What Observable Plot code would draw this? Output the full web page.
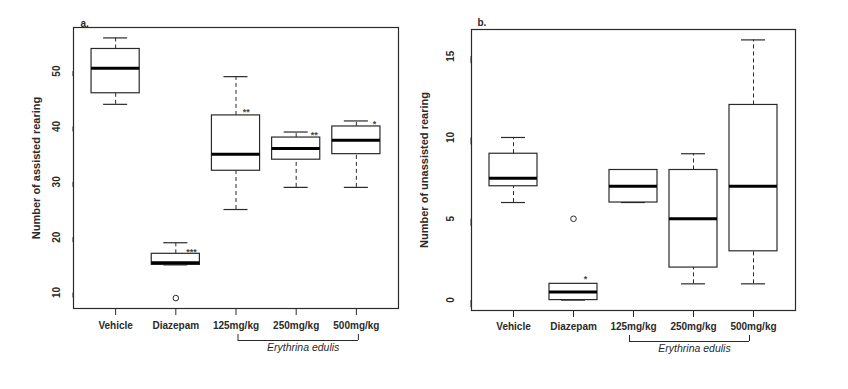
<!DOCTYPE html>
<html><head><meta charset="utf-8">
<script src="https://cdn.jsdelivr.net/npm/d3@7"></script>
<script src="https://cdn.jsdelivr.net/npm/@observablehq/plot@0.6"></script>
<style>
html,body{margin:0;padding:0;background:#fff;}
#wrap{display:flex;width:848px;height:389px;overflow:hidden;}
#wrap svg{overflow:visible;}
</style></head><body><div id="wrap"></div>
<script>
// ---- shared categories ----
const categories = ["Vehicle", "Diazepam", "125mg/kg", "250mg/kg", "500mg/kg"];
const bracketFrom = "125mg/kg";
const bracketTo = "500mg/kg";
const bracketLabel = "Erythrina edulis";

// ---- panel a: assisted rearing ----
const titleA = "a.";
const yLabelA = "Number of assisted rearing";
const yTicksA = [10, 20, 30, 40, 50];
const lowA  = [44, 15, 25, 29, 29];
const q1A   = [46, 15, 32, 34, 35];
const medA  = [50.5, 15.4, 35, 36, 37.5];
const q3A   = [54, 17, 42, 38, 40];
const highA = [56, 19, 49, 39, 41];
const outlierGroupsA = ["Diazepam"];
const outlierValuesA = [9];
const starGroupsA = ["Diazepam", "125mg/kg", "250mg/kg", "500mg/kg"];
const starLabelsA = ["***", "**", "**", "*"];
const starXA = [2.26, 3.17, 4.3, 5.3];
const starYA = [17.7, 43.0, 38.8, 40.8];

// ---- panel b: unassisted rearing ----
const titleB = "b.";
const yLabelB = "Number of unassisted rearing";
const yTicksB = [0, 5, 10, 15];
const lowB  = [6, 0, 6, 1, 1];
const q1B   = [7, 0, 6, 2, 3];
const medB  = [7.5, 0.5, 7, 5, 7];
const q3B   = [9, 1, 8, 8, 12];
const highB = [10, 1, 8, 9, 16];
const outlierGroupsB = ["Diazepam"];
const outlierValuesB = [5];
const starGroupsB = ["Diazepam"];
const starLabelsB = ["*"];
const starXB = [2.2];
const starYB = [1.4];

const FONT = "'Liberation Sans', Arial, Helvetica, sans-serif";
const INK = "#2a2a2a";

function panel(cfg) {
  const idx = g => categories.indexOf(g) + 1;
  const rows = categories.map((c, i) => ({
    i: i + 1, low: cfg.low[i], q1: cfg.q1[i], med: cfg.med[i], q3: cfg.q3[i], high: cfg.high[i]
  }));
  const outliers = cfg.outlierGroups.map((g, k) => ({i: idx(g), v: cfg.outlierValues[k]}));
  const stars = cfg.starLabels.map((s, k) => ({label: s, x: cfg.starX[k], y: cfg.starY[k]}));
  const all = [...cfg.low, ...cfg.high, ...cfg.outlierValues];
  const lo = d3.min(all), hi = d3.max(all), pad = 0.04 * (hi - lo);
  const yDom = [lo - pad, hi + pad];
  const n = categories.length;
  const xPad = 0.04 * n;
  const xDom = [0.5 - xPad, n + 0.5 + xPad];
  const bw = 0.4, cw = 0.2;
  const b0 = idx(bracketFrom), b1 = idx(bracketTo);
  return Plot.plot({
    width: cfg.width, height: 389,
    marginLeft: cfg.ml, marginRight: cfg.mr, marginTop: cfg.mt, marginBottom: cfg.mb,
    x: {domain: xDom},
    y: {domain: yDom},
    style: {fontFamily: FONT, fontSize: "10px", background: "#fff", color: INK, overflow: "visible"},
    marks: [
      Plot.ruleX(rows, {x: "i", y1: "q3", y2: "high", stroke: INK, strokeWidth: 1, strokeDasharray: "4,3"}),
      Plot.ruleX(rows, {x: "i", y1: "low", y2: "q1", stroke: INK, strokeWidth: 1, strokeDasharray: "4,3"}),
      Plot.ruleY(rows, {y: "high", x1: d => d.i - cw, x2: d => d.i + cw, stroke: INK, strokeWidth: 1.2}),
      Plot.ruleY(rows, {y: "low", x1: d => d.i - cw, x2: d => d.i + cw, stroke: INK, strokeWidth: 1.2}),
      Plot.rect(rows, {x1: d => d.i - bw, x2: d => d.i + bw, y1: "q1", y2: "q3", fill: "white", stroke: INK, strokeWidth: 1.2}),
      Plot.ruleY(rows, {y: "med", x1: d => d.i - bw, x2: d => d.i + bw, stroke: "#000", strokeWidth: 3}),
      Plot.dot(outliers, {x: "i", y: "v", r: 2.8, stroke: INK, strokeWidth: 1, fill: "none"}),
      Plot.text(stars, {x: "x", y: "y", text: "label", fontSize: 9, fontWeight: "bold", fill: "#444", dy: 2}),
      Plot.frame({stroke: INK, strokeWidth: 1.2}),
      Plot.axisY({ticks: cfg.yTicks, tickSize: cfg.ytick, tickPadding: cfg.ypad, rotate: -90, textAnchor: "middle",
                  fontWeight: "bold", fontSize: 10, label: null, stroke: INK}),
      Plot.axisX({ticks: d3.range(1, n + 1), tickFormat: i => categories[i - 1], tickSize: 7, tickPadding: cfg.xpad,
                  fontWeight: "bold", fontSize: 10, label: null, stroke: INK}),
      Plot.text([cfg.yLabel], {frameAnchor: "left", textAnchor: "middle", dx: cfg.ylabDx, rotate: -90,
                               fontWeight: "bold", fontSize: 11, fill: INK}),
      Plot.text([cfg.title], {frameAnchor: "top-left", textAnchor: "start", dx: cfg.titleDx, dy: cfg.titleDy,
                              fontWeight: "bold", fontSize: 10, fill: INK}),
      Plot.ruleY([yDom[0]], {x1: b0, x2: b1, dx: cfg.brDx, dy: cfg.brDy, stroke: INK, strokeWidth: 1}),
      Plot.ruleX([b0, b1], {x: d => d, y1: yDom[0], y2: yDom[0], insetTop: -6, dx: cfg.brDx, dy: cfg.brDy, stroke: INK, strokeWidth: 1}),
      Plot.text([bracketLabel], {x: (b0 + b1) / 2, frameAnchor: "bottom", dx: cfg.labDx, dy: cfg.labDy,
                                 fontStyle: "italic", fontSize: 10.5, fill: INK})
    ]
  });
}

const wrap = document.getElementById("wrap");
wrap.appendChild(panel({
  width: 410, ml: 73, mr: 12, mt: 27, mb: 81,
  low: lowA, q1: q1A, med: medA, q3: q3A, high: highA,
  outlierGroups: outlierGroupsA, outlierValues: outlierValuesA,
  starLabels: starLabelsA, starX: starXA, starY: starYA,
  yTicks: yTicksA, yLabel: yLabelA, title: titleA,
  ytick: 5, ypad: 12, xpad: 6, ylabDx: -37, titleDx: 7, titleDy: -8,
  brDx: 2, brDy: 32, labDx: 7, labDy: 42
}));
wrap.appendChild(panel({
  width: 438, ml: 61, mr: 53, mt: 29, mb: 79,
  low: lowB, q1: q1B, med: medB, q3: q3B, high: highB,
  outlierGroups: outlierGroupsB, outlierValues: outlierValuesB,
  starLabels: starLabelsB, starX: starXB, starY: starYB,
  yTicks: yTicksB, yLabel: yLabelB, title: titleB,
  ytick: 7, ypad: 14, xpad: 5, ylabDx: -47, titleDx: 6, titleDy: -11,
  brDx: -4, brDy: 31, labDx: 1, labDy: 41
}));
</script>
</body></html>
